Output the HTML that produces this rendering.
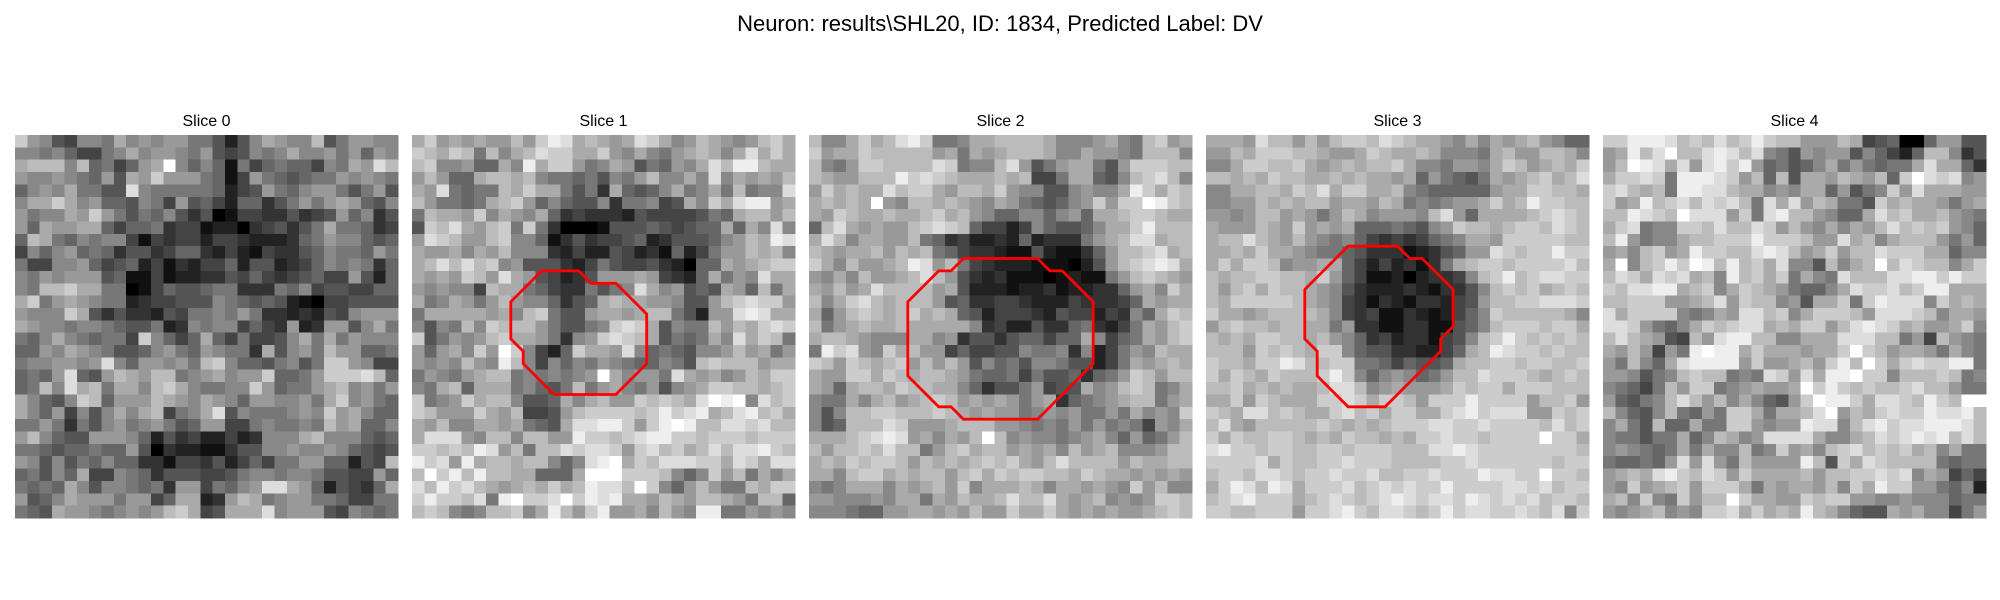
<!DOCTYPE html>
<html><head><meta charset="utf-8">
<style>
html,body{margin:0;padding:0;background:#fff;}
svg{display:block;}
text{font-family:"Liberation Sans","DejaVu Sans",sans-serif;fill:#000;}
</style></head>
<body>
<svg id="fig" width="2000" height="600" viewBox="0 0 2000 600" xmlns="http://www.w3.org/2000/svg">
<rect x="0" y="0" width="2000" height="600" fill="#fff"/>
<text x="1000" y="31" text-anchor="middle" font-size="22">Neuron: results\SHL20, ID: 1834, Predicted Label: DV</text>
</svg>
<script>
const sliceTitles = ["Slice 0","Slice 1","Slice 2","Slice 3","Slice 4"];
const slice0 = [
"c9854887a89899775258a988b5799 8","8878644 78a899879545878a889796 98","abbb8b674 69af868617467664 87a9db","98898769 5a9c99976149765677989 87","68 98a7755d87777762459768997579 57","8aaca896658749564266357979a9658","9788a9c9757685350144335345968 35","96a99aa646673441220345357a7763 4","6ba7687884143442443222367988656","486896763553466324214335687769 7","7448896456241324462552346878736","879899956114122335464345644952 6","87bbcaa77014655677333768455446 6","ac79a98772344555876565210445555","9888ca53533254778797332325489998","a9887887655723878846439239958a7","7 68a876774c864 6a647445 8a7a798 8","669 8a98755689769877 3a5897b99667","7889989d8699897bc86657857ccа984","6769d659ba9bb789a899c667 9cccdb6","67b8dab7aa8bca877 88c967 79ab8979","a8658cb6999ba98a986998897ac8976","a8694858a8ab478ad587778 98c9a866","77973758978975699447877 87b9a668","9b8655999862534224238 88ab88865 6","776566766950322113558898898654 5","985857686633144352464779966254b","675 86a448763555445788788755449 6","7676a8588767399476 89dda962543 6a","9568a99979946aa239ba78997764477","765a99878989bca45aaad89995487 67"];
const slice1 = [
"ac9a9a99b9cedaba9adca89ba989bca9","cbacb7b8abdccaac98a879aba8ada ca","bc8896 6a8eacc978a957698adbeeb aa","9b966abbab877675879b88a8d8a9a9b","a9d7677bacaa757 3a656 8a78a7b788d","b9776 7abc968655837784 5a8cadee9ab","7baa9c8a98a634333254444576abb9ba","5cbda9bc7c730001555654566a6a8d8","9dcb99bc8861353445623555689bae d","a99a8a9b88832422542316247 99ba b8","abdbdbc89555324754453206 6a9abcc","a9a9cb9da954235999a943 26a798daa","989884baa7643375 78da8956 5a96b7a","a78a979b98863 56aba a998559bcdcc9","7aaaaa9a8bc7559aa9abb7529 9dedaa","858 7b8cbbb97557 8cdca58 77b9bacdc","c579 89bcaa97389cdcba5767a8dacb7a","969a8c9fc842 6caa9d867658 89b9a79","989 8b98eb84868798766875bcbbb9aa","7987 9abb787878 9fa899 7da9a89bacа","87ab6aaa78657b79a879589accbba bc","c789cabb855 6a8ab99cbcbadfef8dbc","cb999ca9b4459bccccbcecdeabdeb ca","a9b88aa9a765addeec9cefebbddcdbb","addd98bb8bb99eccbcdeeccbcccbcccd","ccbcbed9b7bbdcddc9cdbcabdbddecb","ecd9eabbabb868def acbdddccadcadа","bfcebebbaa666afffcccb868c9b7a8a","dbecdba9abacabeddbfc869b977bacc9","cecc bd7efccdfcedeaa9ba9bba97bb6","bcb878bbc8aeb9ce9 9a8b98ee77989 8"];
const slice2 = [
"b88acabdec778aabbbba8889a87bc9a","c9aacbbbbb9a7a9abbba88a998 7bbb8","b879ccbbbbdc788bd957 9aa759ccc bb","ba99bbbecdcbaaabab447aa658bcdb8","9cabaadbcca9bbac98855898 8aecacb","abab af98bbaba98a976568 9c9ccfecb","a9cbaabaabcab98668868 9 6aabccba","6bda9a99bcdcb64424865568aaceb bb","adb8aa99b763422326233379abddabb","ba9aab9bab764332115211369bbcdab","ca8b99abed9b74322211102 59bcdeda","98a8b99abdb95323111012117 9bcba9","a9b9adbbbb9a52221223122336 9a8ca","b8acdbabbb95633443222433346a9aa","a69bcbabcaba65244432544 2 4386acb","b79aba aba aaaa8342253367 324 7a9bcd","abba988 8aa89355356646 6a846 7a9bc","7ecd98cabа9946445587783 8247 98ba","cb9cbabc9b9b958675887552 47a9aba","a99ccacbabba9766747556 3679cb9bb","a96abbacbbaa8635579455a89bcb78a","877a8ab9abcb9a9a979a36789abb79a","858bbccbbbcba9a99789897797a898c","856bbbdc999abbb998787979787 498a","aaabcded9a8a9bfb89887 89a869679b","b9bbcbdbb79bcabb9a9a8b9ab888 9bb","abacbccb9bababcbca9bdbbb b9baab","aa8bccaba bb9bcacbccbbacbaa9a9a9","878aaa8a9ab9c8aaaba8aa9a98c9b8","99888 98aa7a9baabdbbda9ab898 9ccb","88876699aa9a9b99caaca9a9a99abcb"];
const slice3 = [
"aaa9dbb9b9bccbdcbaa98a8a9ab9866","99bacccbba99acbaaba8887ab99bba8","88accbbca9ababbca887998acb9aba c","bbabacbbaababaa9a69765 7a9abcabd","88aabbacbdacc aab8766666 9aaccbba","8899babab bа9aa9ba787899acabecc b","9989bb9a979ba899 98bd96aaaabcdcb","a999ba9c9a9a6667658 9cbbabccbdcb","abbdba9b98786434346 78aa9ccccc bb","aabacaa98776533312356 99dcbcceccd","acaccb899aa642423137abccbccccdb","babbccbbac964112023348bceb cddcc","b9bcacbba985322232133 58bcbcabcb","bacccccba98431321332459bbccdddc","caa9abbbba8434113212468cbbbbba8","9bcbbabbaa7933113311568bcccbcca","babaccbbab9863423314 58bcecbc bcbb","bbb9cbcbacc86553322 46abedccbcbb","cbbacced bbcc7764655 6abbccbccbbc","cacbacbbbcec868986 79bbdccc babcb","bbcabab aabdd b89a999acbccacccbb","aac9cbaaaccdcaccb9cccecccc9bbc9c","cbaddbcbaacdbcaccaacdecddd 99cbcb","bda9bbbbbcbababcccddccdccccbdbcb","cacbbccbabacbbabaccdccbccccfcca","decc bccbbccbcccbbbddedccccccccbc","ccccdacbbccdcccbbbbccdccc cccbccc","bccbddcbccdccdbbccdcccedd ccfccb","aced bedaccc dbcdcdccecccc ddcdbcc","bcdecccabcdcbcdedcddcedcdcdbccb","ccbbccc9ccdecbddcbcecddccdcbd8c"];
const slice4 = [
"cceeedbcbdbcecbb999ba45600699 55","9aebdfbbdedbd8759899586426bb835","9bfedad9dece96756 8a797677adaa63","accdc7eeedc9b6b5aa9ba9b6cfdcd89","cdbab7eeddbaa898aa6957 8c9daaa9","c9aebcdbdcdb7dad9ba775cabaa979a","bbedcbfddd9c7debb98 66adbcaab987","acd788ccbdbbdc9b98a8a9bdbcbc986","be9788abbccceccc b99dab8abbb9796","9a8bc9aeccbbdedb9ac9bbdccc aa688","af8bcecfebebcad885b8abfbdcbb8ac","bdcadcdab8ebcac7a87dbbbddeecec c","cbddeeabc8acba97668adccdbceeaaa","bbccc99abd9cbb895aac7ceddd8cabad","dacccc878a9ddbc8acccb9dddcb8aa9a","ddc9768acbcddaba cc9bdedcab99ac8","bdba954b9deebb88aaadddbb794b987","a9b9497efeeacaaa9aacfcb9aa97a87","97b86adeeee9c99ab9cebfcacdccee76","99857 8bcbb787dc9daeefcc8bbbcb78","8764 7b9cc789a99afcecbcbbcdbb977","96578bdb9b8a865 9cfeecaddcbecbff","b8658b7697cca7aabdf9bacdccedd eb","8a75b66a77cc98 99edd8bdecddeeedbb","87757 7a68ba89dddda88abdcdedebdbc","89876 7a7a88b78c9a8bcdbcbcab8a77","766769d9d97b9999eb5cadcbbbb7677","9abadecbdc9caaaab9bbccdcd8a9464","98c9abc9ccca7a9aa9b8cae cc99768 28","ab8c87c9bbfcaa99cbcc998898886 77","989ab898ccdacabaeba8655a9a88479"];
const polyX1 = [10.5,13.5,14.5,16.5,19,19,16.5,11.5,9,9,8,8];
const polyY1 = [11,11,12,12,14.5,18.5,21,21,18.5,17.5,16.5,13.5];
const polyX2 = [12.5,18.5,19.5,20.5,23,23,18.5,12.5,11.5,10.5,8,8,10.5,11.5];
const polyY2 = [10,10,11,11,13.5,18.5,23,23,22,22,19.5,13.5,11,11];
const polyX3 = [11.5,15.5,16.5,17.5,20,20,19,19,14.5,11.5,9,9,8,8];
const polyY3 = [9,9,10,10,12.5,15.5,16.5,17.5,22,22,19.5,17.5,16.5,12.5];

const slices = [slice0,slice1,slice2,slice3,slice4];
const polyXs = [null,polyX1,polyX2,polyX3,null];
const polyYs = [null,polyY1,polyY2,polyY3,null];
const N = 31;
const panelLeft = [15,412,809,1206,1603];
const panelTop = 135, panelSize = 383;
const NS = "http://www.w3.org/2000/svg";
const svg = document.getElementById('fig');

function cleanRow(r){
  let s = r.replace(/[^0-9a-fA-F]/g,'');
  while (s.length < N) s += s.charAt(s.length-1) || '9';
  return s.slice(0,N);
}
function xScale(p,c){ return panelLeft[p] + c*panelSize/N; }
function yScale(r){ return panelTop + r*panelSize/N; }

slices.forEach((rows,p)=>{
  const g = document.createElementNS(NS,'g');
  
  
  g.setAttribute('shape-rendering','crispEdges');
  rows.forEach((row,r)=>{
    const s = cleanRow(row);
    for (let c=0;c<N;c++){
      const v = parseInt(s[c],16)*17;
      const x0 = xScale(p,c), x1 = xScale(p,c+1);
      const y0 = yScale(r), y1 = yScale(r+1);
      const rect = document.createElementNS(NS,'rect');
      rect.setAttribute('x', x0.toFixed(2));
      rect.setAttribute('y', y0.toFixed(2));
      rect.setAttribute('width', (x1-x0+0.6).toFixed(2));
      rect.setAttribute('height', (y1-y0+0.6).toFixed(2));
      rect.setAttribute('fill', `rgb(${v},${v},${v})`);
      
      
      g.appendChild(rect);
    }
  });
  svg.appendChild(g);
  const t = document.createElementNS(NS,'text');
  t.setAttribute('x', panelLeft[p] + panelSize/2);
  t.setAttribute('y', 126);
  t.setAttribute('text-anchor','middle');
  t.setAttribute('font-size','16');
  t.textContent = sliceTitles[p];
  
  
  svg.appendChild(t);
  if (polyXs[p]){
    const pts = polyXs[p].map((x,i)=> xScale(p,x).toFixed(1)+','+yScale(polyYs[p][i]).toFixed(1)).join(' ');
    const pg = document.createElementNS(NS,'polygon');
    pg.setAttribute('points', pts);
    pg.setAttribute('fill','none');
    pg.setAttribute('stroke','#ff0000');
    pg.setAttribute('stroke-width','2.8');
    pg.setAttribute('stroke-linejoin','miter');
    
    
    svg.appendChild(pg);
  }
});
</script>
</body></html>
